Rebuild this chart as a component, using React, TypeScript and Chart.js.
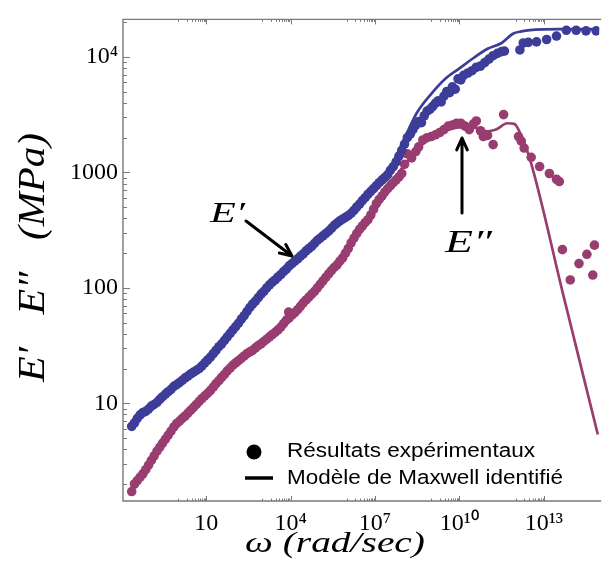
import { useEffect, useRef } from 'react';
import { Chart, registerables } from 'chart.js';

Chart.register(...registerables);

const BLUE = '#3d3d99';
const PLUM = '#993d71';
const FRAME = '#7a7a7a';

const xTickValues = [10, 1e4, 1e7, 1e10, 1e13];
const xTickLabels = ['10', '10⁴', '10⁷', '10¹⁰', '10¹³'];
const yTickValues = [10, 100, 1000, 1e4];
const yTickLabels = ['10', '100', '1000', '10⁴'];

// E' experimental (storage modulus), ω in rad/s, E in MPa
const storageOmega = [
  2.24e-2, 2.82e-2, 3.55e-2, 4.47e-2, 5.62e-2, 7.08e-2, 8.91e-2,
  1.12e-1, 1.41e-1, 1.78e-1, 2.24e-1, 2.82e-1, 3.55e-1, 4.47e-1, 5.62e-1, 7.08e-1, 8.91e-1,
  1.12, 1.41, 1.78, 2.24, 2.82, 3.55, 4.47, 5.62, 7.08, 8.91,
  11.2, 14.1, 17.8, 22.4, 28.2, 35.5, 44.7, 56.2, 70.8, 89.1,
  112, 141, 178, 224, 282, 355, 447, 562, 708, 891,
  1.12e3, 1.41e3, 1.78e3, 2.24e3, 2.82e3, 3.55e3, 4.47e3, 5.62e3, 7.08e3, 8.91e3,
  1.12e4, 1.41e4, 1.78e4, 2.24e4, 2.82e4, 3.55e4, 4.47e4, 5.62e4, 7.08e4, 8.91e4,
  1.12e5, 1.41e5, 1.78e5, 2.24e5, 2.82e5, 3.55e5, 4.47e5, 5.62e5, 7.08e5, 8.91e5,
  1.12e6, 1.41e6, 1.78e6, 2.24e6, 2.82e6, 3.55e6, 4.47e6, 5.62e6, 7.08e6, 8.91e6,
  1.12e7, 1.41e7, 1.78e7, 2.24e7, 2.82e7, 3.55e7, 4.47e7, 5.62e7, 7.08e7, 8.91e7,
  1.12e8, 1.41e8, 1.78e8, 2.24e8, 2.82e8, 3.55e8, 4.47e8, 5.62e8, 7.08e8, 8.91e8,
  1.12e9, 1.41e9, 1.78e9, 2.24e9, 2.82e9, 3.55e9, 4.47e9, 5.62e9, 7.08e9, 8.91e9,
  1.12e10, 1.41e10, 2.0e10, 2.82e10, 3.98e10, 5.62e10, 7.94e10,
  1.12e11, 1.58e11, 2.24e11, 3.16e11, 3.98e11,
  1.41e12, 1.86e12, 2.82e12, 5.5e12, 1.26e13, 2.82e13, 6.31e13, 1.41e14, 3.16e14, 7.24e14,
];
const storageExp = [
  6.31, 6.76, 7.41, 7.94, 8.32, 8.51, 8.91,
  9.44, 9.77, 10.2, 10.8, 11.4, 12.0, 12.6, 13.2, 14.0, 14.5,
  15.1, 15.8, 16.6, 17.2, 18.0, 18.6, 19.3, 20.0, 21.1, 22.4,
  23.7, 25.1, 26.9, 28.8, 30.9, 32.7, 35.1, 37.6, 40.3, 43.2,
  46.2, 49.5, 53.7, 57.5, 62.4, 67.6, 72.4, 76.7, 82.2, 88.1,
  93.3, 100, 106, 112, 117, 124, 130, 138, 145, 155,
  162, 170, 178, 188, 197, 209, 219, 229, 243, 257,
  269, 282, 295, 309, 327, 347, 363, 380, 394, 407,
  422, 442, 468, 501, 531, 569, 603, 646, 684, 724,
  767, 813, 861, 902, 955, 1047, 1122, 1230, 1380, 1549,
  1758, 1995, 2138, 2344, 2570, 2754, 2692, 3090, 3388, 3508,
  3715, 3981, 4169, 4074, 4571, 5012, 4898, 5495, 5248, 6457,
  6310, 6918, 7244, 7586, 8128, 8318, 8913,
  9550, 10230, 10720, 11090, 11220,
  11480, 13180, 13340, 13490, 14130, 15140, 16980, 16980, 16790, 16790,
];

// E'' experimental (loss modulus)
const lossOmega = [
  2.24e-2, 2.82e-2, 3.55e-2, 4.47e-2, 5.62e-2, 7.08e-2, 8.91e-2,
  1.12e-1, 1.41e-1, 1.78e-1, 2.24e-1, 2.82e-1, 3.55e-1, 4.47e-1, 5.62e-1, 7.08e-1, 8.91e-1,
  1.12, 1.41, 1.78, 2.24, 2.82, 3.55, 4.47, 5.62, 7.08, 8.91,
  11.2, 14.1, 17.8, 22.4, 28.2, 35.5, 44.7, 56.2, 70.8, 89.1,
  112, 141, 178, 224, 282, 355, 447, 562, 708, 891,
  1.12e3, 1.41e3, 1.78e3, 2.24e3, 2.82e3, 3.55e3, 4.47e3, 5.62e3, 7.08e3, 8.51e3, 8.91e3,
  1.12e4, 1.41e4, 1.78e4, 2.24e4, 2.82e4, 3.55e4, 4.47e4, 5.62e4, 7.08e4, 8.91e4,
  1.12e5, 1.41e5, 1.78e5, 2.24e5, 2.82e5, 3.55e5, 4.47e5, 5.62e5, 7.08e5, 8.91e5,
  1.12e6, 1.41e6, 1.78e6, 2.24e6, 2.82e6, 3.55e6, 4.47e6, 5.62e6, 7.08e6, 8.91e6,
  1.12e7, 1.41e7, 1.78e7, 2.24e7, 2.82e7, 3.55e7, 4.47e7, 5.62e7, 7.08e7, 8.91e7,
  1.12e8, 1.41e8, 2.0e8, 2.82e8, 3.55e8, 5.01e8, 7.08e8, 1e9, 1.41e9, 2.0e9,
  2.82e9, 3.98e9, 5.62e9, 7.94e9, 1.12e10, 1.58e10, 2.24e10, 3.16e10, 3.98e10, 5.62e10,
  7.08e10, 1e11, 1.58e11, 3.72e11, 1.26e12, 1.58e12, 2.0e12, 3.55e12, 7.08e12, 1.58e13,
  2.82e13, 3.55e13, 4.57e13, 8.71e13, 1.78e14, 3.39e14, 5.5e14, 6.31e14,
];
const lossExp = [
  1.72, 2.0, 2.14, 2.29, 2.45, 2.66, 2.92,
  3.2, 3.51, 3.85, 4.17, 4.52, 4.9, 5.31, 5.75, 6.24, 6.68,
  7.0, 7.41, 7.76, 8.22, 8.71, 9.23, 9.77, 10.4, 11.0, 11.6,
  12.2, 12.9, 13.8, 14.8, 15.7, 16.8, 17.8, 19.1, 20.2, 21.4,
  22.4, 23.4, 24.5, 25.7, 26.9, 27.9, 28.8, 30.2, 31.6, 32.7,
  34.3, 35.9, 37.6, 39.4, 41.2, 43.2, 45.7, 49.0, 52.5, 61.7, 55.0,
  58.2, 61.0, 64.6, 69.2, 74.1, 78.5, 83.2, 88.1, 93.3, 100,
  107, 115, 123, 132, 141, 150, 158, 170, 182, 200,
  219, 245, 269, 295, 320, 343, 367, 389, 427, 479,
  537, 582, 624, 676, 724, 767, 813, 861, 912, 977,
  1175, 1445, 1334, 1514, 1660, 1905, 1995, 2042, 2113, 2213,
  2344, 2512, 2570, 2661, 2661, 2512, 2344, 2630, 2786, 2291,
  2042, 2089, 1738, 3162, 2042, 1862, 1622, 1349, 1122, 977,
  871, 832, 214, 117, 162, 195, 129, 234,
];

// Maxwell model curves
const storageModelOmega = [
  2.24e-2, 1e-1, 1, 10, 100, 1e3, 1e4, 1e5, 1e6, 1e7, 3.16e7, 1e8, 3.16e8, 1e9, 3.16e9,
  1e10, 3.16e10, 1e11, 3.16e11, 7.94e11, 1.58e12, 5.01e12, 3.16e13, 1e15,
];
const storageModel = [
  6.31, 9.12, 14.8, 22.9, 44.7, 91.2, 158, 269, 427, 759, 1047, 1862, 3311, 4786, 6457,
  7943, 9772, 11750, 13180, 15850, 16600, 17180, 17380, 17380,
];
const lossModelOmega = [
  2.24e-2, 1, 10, 100, 1e3, 1e4, 1e5, 1e6, 1e7, 1e8, 3.16e8, 1e9, 3.16e9, 1e10, 3.16e10,
  1e11, 2e11, 5.01e11, 8.91e11, 1.26e12, 1.86e12, 3.16e12, 5.01e13, 8.32e14,
];
const lossModel = [
  1.72, 6.84, 11.9, 21.9, 33.5, 57.5, 107, 224, 525, 1122, 1585, 1995, 2291, 2455, 2455,
  2265, 2344, 2661, 2630, 2344, 1862, 1318, 85.1, 5.37,
];

const toPoints = (xs: number[], ys: number[]) => xs.map((x, i) => ({ x, y: ys[i] }));

function drawText(
  ctx: CanvasRenderingContext2D,
  text: string,
  x: number,
  y: number,
  targetW: number,
  font: string,
  align: CanvasTextAlign,
  rotate = false,
  sy = 1,
) {
  ctx.save();
  ctx.font = font;
  ctx.fillStyle = '#000';
  const w = ctx.measureText(text).width || 1;
  ctx.translate(x, y);
  if (rotate) ctx.rotate(-Math.PI / 2);
  ctx.scale(targetW / w, sy);
  ctx.textAlign = align;
  ctx.textBaseline = 'alphabetic';
  ctx.fillText(text, 0, 0);
  ctx.restore();
}

function arrow(ctx: CanvasRenderingContext2D, x1: number, y1: number, x2: number, y2: number) {
  const ang = Math.atan2(y2 - y1, x2 - x1);
  const head = 13;
  const spread = 0.42;
  ctx.save();
  ctx.strokeStyle = '#000';
  ctx.lineWidth = 3;
  ctx.lineCap = 'round';
  ctx.lineJoin = 'round';
  ctx.beginPath();
  ctx.moveTo(x1, y1);
  ctx.lineTo(x2, y2);
  ctx.moveTo(x2 - head * Math.cos(ang - spread), y2 - head * Math.sin(ang - spread));
  ctx.lineTo(x2, y2);
  ctx.lineTo(x2 - head * Math.cos(ang + spread), y2 - head * Math.sin(ang + spread));
  ctx.stroke();
  ctx.restore();
}

const overlayPlugin = {
  id: 'overlay',
  afterDraw(chart: any) {
    const { ctx, chartArea: a, scales } = chart;
    const xs = scales.x;
    const ys = scales.y;
    ctx.save();
    // frame
    ctx.strokeStyle = FRAME;
    ctx.lineWidth = 1.4;
    ctx.beginPath();
    ctx.moveTo(a.right + 2, a.top);
    ctx.lineTo(a.left, a.top);
    ctx.lineTo(a.left, a.bottom);
    ctx.lineTo(a.right + 2, a.bottom);
    ctx.stroke();
    // y ticks (inward)
    ctx.lineWidth = 1;
    ctx.beginPath();
    for (let d = 0; d <= 4; d++) {
      for (let k = 1; k <= 9; k++) {
        const v = k * Math.pow(10, d);
        if (v < ys.min || v > ys.max) continue;
        const y = Math.round(ys.getPixelForValue(v)) + 0.5;
        const len = k === 1 ? 7 : 4;
        ctx.moveTo(a.left, y);
        ctx.lineTo(a.left + len, y);
      }
    }
    // x ticks top & bottom
    for (const major of xTickValues) {
      for (let k = 1; k <= 10; k++) {
        const v = (k * major) / 10;
        const x = Math.round(xs.getPixelForValue(v)) + 0.5;
        const len = k === 10 ? 5 : 2.5;
        ctx.moveTo(x, a.bottom);
        ctx.lineTo(x, a.bottom - len);
        ctx.moveTo(x, a.top);
        ctx.lineTo(x, a.top + len);
      }
    }
    ctx.stroke();
    ctx.restore();

    // annotations
    drawText(ctx, 'E′', 210, 222, 35, "italic 30px 'Liberation Serif', serif", 'left');
    arrow(ctx, 246, 221, 292, 256);
    drawText(ctx, 'E″', 445, 252, 47, "italic 32px 'Liberation Serif', serif", 'left');
    arrow(ctx, 462, 213, 462, 138);

    // legend
    ctx.save();
    ctx.fillStyle = '#000';
    ctx.beginPath();
    ctx.arc(254, 452, 7.5, 0, Math.PI * 2);
    ctx.fill();
    ctx.strokeStyle = '#000';
    ctx.lineWidth = 3.5;
    ctx.beginPath();
    ctx.moveTo(245, 478);
    ctx.lineTo(273, 478);
    ctx.stroke();
    ctx.restore();
    drawText(ctx, 'Résultats expérimentaux', 287, 457, 248, "19.5px 'Liberation Sans', Arial, sans-serif", 'left');
    drawText(ctx, 'Modèle de Maxwell identifié', 287, 484, 276, "19.5px 'Liberation Sans', Arial, sans-serif", 'left');

    // axis titles
    drawText(ctx, 'ω (rad/sec)', 245, 552, 180, "italic 30px 'Liberation Serif', serif", 'left');
    const yFont = "italic 32px 'Liberation Serif', serif";
    drawText(ctx, 'E′', 44, 364.5, 35, yFont, 'center', true, 1.18);
    drawText(ctx, 'E″', 44, 293, 43, yFont, 'center', true, 1.18);
    drawText(ctx, '(MPa)', 44, 186.5, 107, yFont, 'center', true, 1.18);
  },
};

export default function App() {
  const canvasRef = useRef<HTMLCanvasElement | null>(null);

  useEffect(() => {
    document.body.style.margin = '0';
    const canvas = canvasRef.current;
    if (!canvas) return;
    const tickFont = { family: "'Liberation Serif', 'Times New Roman', serif", size: 24 };
    const chart = new Chart(canvas, {
      type: 'scatter',
      data: {
        datasets: [
          {
            label: 'E′ expérimental',
            data: toPoints(storageOmega, storageExp),
            backgroundColor: BLUE,
            borderColor: BLUE,
            pointRadius: 4.8,
            pointBorderWidth: 0,
            showLine: false,
            order: 0,
          },
          {
            label: 'E″ expérimental',
            data: toPoints(lossOmega, lossExp),
            backgroundColor: PLUM,
            borderColor: PLUM,
            pointRadius: 4.8,
            pointBorderWidth: 0,
            showLine: false,
            order: 0,
          },
          {
            label: 'E′ modèle de Maxwell',
            data: toPoints(storageModelOmega, storageModel),
            borderColor: BLUE,
            backgroundColor: BLUE,
            borderWidth: 2.7,
            pointRadius: 0,
            showLine: true,
            cubicInterpolationMode: 'monotone',
            order: 1,
          },
          {
            label: 'E″ modèle de Maxwell',
            data: toPoints(lossModelOmega, lossModel),
            borderColor: PLUM,
            backgroundColor: PLUM,
            borderWidth: 2.7,
            pointRadius: 0,
            showLine: true,
            cubicInterpolationMode: 'monotone',
            order: 1,
          },
        ],
      },
      options: {
        responsive: false,
        animation: false,
        devicePixelRatio: 1,
        layout: { padding: { top: 13, right: 0, bottom: 0, left: 0 } },
        plugins: { legend: { display: false }, tooltip: { enabled: false } },
        scales: {
          x: {
            type: 'logarithmic',
            position: 'bottom',
            min: 0.011,
            max: 9.3e14,
            afterBuildTicks: (s: any) => {
              s.ticks = xTickValues.map((v) => ({ value: v }));
            },
            afterFit: (s: any) => {
              s.height = 75;
            },
            grid: { display: false, drawTicks: false },
            border: { display: false },
            ticks: {
              autoSkip: false,
              maxRotation: 0,
              minRotation: 0,
              padding: 8,
              color: '#000',
              font: tickFont,
              callback: (_v: any, i: number) => xTickLabels[i],
            },
          },
          y: {
            type: 'logarithmic',
            position: 'left',
            min: 1.425,
            max: 21100,
            afterBuildTicks: (s: any) => {
              s.ticks = yTickValues.map((v) => ({ value: v }));
            },
            afterFit: (s: any) => {
              s.width = 123;
            },
            grid: { display: false, drawTicks: false },
            border: { display: false },
            ticks: {
              autoSkip: false,
              padding: 5,
              color: '#000',
              font: tickFont,
              callback: (_v: any, i: number) => yTickLabels[i],
            },
          },
        },
      },
      plugins: [overlayPlugin],
    } as any);
    return () => chart.destroy();
  }, []);

  return (
    <div style={{ width: 604, height: 576 }}>
      <canvas ref={canvasRef} width={604} height={576} style={{ display: 'block' }} />
    </div>
  );
}
